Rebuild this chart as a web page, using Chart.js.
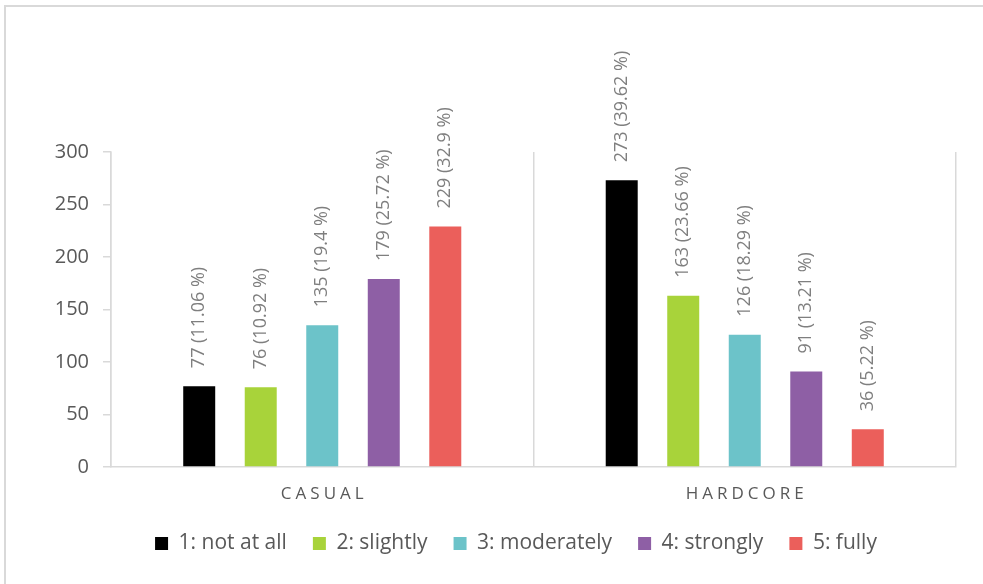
<!DOCTYPE html>
<html>
<head>
<meta charset="utf-8">
<title>Casual vs hardcore ratings</title>
<script src="https://cdn.jsdelivr.net/npm/chart.js@4.4.1/dist/chart.umd.min.js"></script>
<style>
  html, body { margin: 0; padding: 0; background: #ffffff; overflow: hidden; }
  #frame {
    position: absolute; left: 4px; top: 5px; width: 2000px; height: 2000px;
    border-top: 2px solid #d9d9d9; border-left: 2px solid #d9d9d9;
  }
  #wrap { position: absolute; left: 0; top: 0; width: 983px; height: 584px; }
</style>
</head>
<body>
<div id="frame"></div>
<div id="wrap"><canvas id="chart" width="983" height="584"></canvas></div>
<script>
// Player groups on the x axis
const categories = ['CASUAL', 'HARDCORE'];

// Rating labels (one series per rating)
const seriesNames = ['1: not at all', '2: slightly', '3: moderately', '4: strongly', '5: fully'];

// Counts per rating: [casual, hardcore]
const notAtAll   = [77, 273];
const slightly   = [76, 163];
const moderately = [135, 126];
const strongly   = [179, 91];
const fully      = [229, 36];

// Share of each group, in percent: [casual, hardcore]
const notAtAllPct   = [11.06, 39.62];
const slightlyPct   = [10.92, 23.66];
const moderatelyPct = [19.4, 18.29];
const stronglyPct   = [25.72, 13.21];
const fullyPct      = [32.9, 5.22];

// Y axis ticks
const yTicks = [0, 50, 100, 150, 200, 250, 300];

const seriesValues = [notAtAll, slightly, moderately, strongly, fully];
const seriesPcts = [notAtAllPct, slightlyPct, moderatelyPct, stronglyPct, fullyPct];
const seriesColors = ['#000000', '#a8d33a', '#6cc3c9', '#8e5fa5', '#eb5f5b'];

const FONT = "'Open Sans', 'Liberation Sans', sans-serif";
const LEGEND_CENTER_X = 516;

// Rotated "count (share %)" labels above each bar
const barLabels = {
  id: 'barLabels',
  afterDatasetsDraw(chart) {
    const ctx = chart.ctx;
    ctx.save();
    ctx.font = '18px ' + FONT;
    ctx.fillStyle = '#7f7f7f';
    ctx.textAlign = 'left';
    ctx.textBaseline = 'middle';
    chart.data.datasets.forEach((ds, di) => {
      const meta = chart.getDatasetMeta(di);
      meta.data.forEach((bar, i) => {
        const text = ds.data[i] + ' (' + seriesPcts[di][i] + ' %)';
        ctx.save();
        ctx.translate(bar.x, bar.y - 18);
        ctx.rotate(-Math.PI / 2);
        ctx.fillText(text, 0, 0);
        ctx.restore();
      });
    });
    ctx.restore();
  }
};

// Letter-spaced category names under the x axis
const categoryLabels = {
  id: 'categoryLabels',
  afterDraw(chart) {
    const ctx = chart.ctx;
    const xs = chart.scales.x;
    ctx.save();
    ctx.font = '17px ' + FONT;
    ctx.fillStyle = '#595959';
    ctx.textAlign = 'center';
    ctx.textBaseline = 'middle';
    ctx.letterSpacing = '4px';
    categories.forEach((c, i) => {
      ctx.fillText(c, xs.getPixelForValue(i) + 2, xs.bottom - 13);
    });
    ctx.restore();
  }
};

// Center the legend row on a fixed x position
const legendShift = {
  id: 'legendShift',
  afterLayout(chart) {
    const lg = chart.legend;
    if (!lg) return;
    const dx = LEGEND_CENTER_X - (lg.left + lg.right) / 2;
    lg.left += dx;
    lg.right += dx;
  }
};

new Chart(document.getElementById('chart'), {
  type: 'bar',
  data: {
    labels: categories,
    datasets: seriesNames.map((name, i) => ({
      label: name,
      data: seriesValues[i],
      backgroundColor: seriesColors[i],
      borderWidth: 0,
      categoryPercentage: 0.728,
      barPercentage: 0.52
    }))
  },
  options: {
    responsive: false,
    animation: false,
    devicePixelRatio: 1,
    layout: { padding: { top: 152, left: 20, right: 27, bottom: 20 } },
    plugins: {
      tooltip: { enabled: false },
      legend: {
        position: 'bottom',
        labels: {
          boxWidth: 13,
          boxHeight: 13,
          padding: 26,
          color: '#595959',
          font: { family: FONT, size: 21 }
        }
      }
    },
    scales: {
      x: {
        grid: {
          offset: true,
          drawTicks: false,
          color: '#d9d9d9',
          lineWidth: 1.5
        },
        border: { display: true, color: '#d9d9d9', width: 1.5 },
        ticks: { display: false },
        afterFit(scale) { scale.height = 40; }
      },
      y: {
        min: 0,
        max: 300,
        afterBuildTicks(scale) { scale.ticks = yTicks.map(v => ({ value: v })); },
        grid: {
          drawOnChartArea: false,
          drawTicks: true,
          tickLength: 8,
          color: '#d9d9d9',
          lineWidth: 1.5
        },
        border: { display: true, color: '#d9d9d9', width: 1.5 },
        ticks: {
          padding: 14,
          color: '#595959',
          font: { family: FONT, size: 20 }
        },
        afterFit(scale) { scale.width = 91; }
      }
    }
  },
  plugins: [barLabels, categoryLabels, legendShift]
});
</script>
</body>
</html>
